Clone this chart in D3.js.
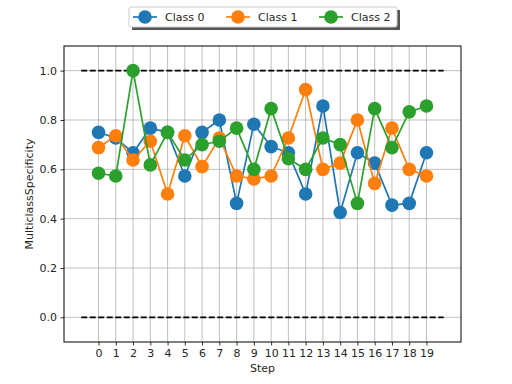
<!DOCTYPE html>
<meta charset="utf-8">
<title>MulticlassSpecificity</title>
<script src="https://d3js.org/d3.v7.min.js"></script>
<style>
    body { margin: 0; background: #fff; }
    text { font-family: "DejaVu Sans", sans-serif; fill: #262626; }
</style>
<body>
    <div id="my_dataviz"></div>
    <script>

        // values
        var steps = d3.range(0, 20);
        var classNames = ["Class 0", "Class 1", "Class 2"];
        var class0 = [0.75, 0.727, 0.667, 0.767, 0.75, 0.573, 0.75, 0.80, 0.462, 0.783,
                      0.692, 0.667, 0.50, 0.857, 0.425, 0.667, 0.625, 0.455, 0.462, 0.667];
        var class1 = [0.688, 0.736, 0.638, 0.714, 0.50, 0.736, 0.611, 0.727, 0.573, 0.561,
                      0.573, 0.727, 0.923, 0.60, 0.625, 0.80, 0.543, 0.767, 0.60, 0.573];
        var class2 = [0.584, 0.573, 1.0, 0.618, 0.75, 0.638, 0.70, 0.714, 0.767, 0.60,
                      0.846, 0.643, 0.60, 0.727, 0.70, 0.462, 0.846, 0.688, 0.833, 0.857];
        var yTicks = [0.0, 0.2, 0.4, 0.6, 0.8, 1.0];
        var refLines = [0.0, 1.0];
        var refRange = [-1, 20];

        var colors = ["#1f77b4", "#ff7f0e", "#2ca02c"];
        var series = [class0, class1, class2];

        // set the dimensions and margins of the graph
        var margin = { top: 46, right: 51, bottom: 42, left: 64 },
            width = 512 - margin.left - margin.right,
            height = 384 - margin.top - margin.bottom;

        var svg = d3.select("#my_dataviz")
            .append("svg")
            .attr("width", 512)
            .attr("height", 384);

        var g = svg.append("g")
            .attr("transform", "translate(" + margin.left + "," + margin.top + ")");

        var x = d3.scaleLinear().domain([-2, 21]).range([0, width]);
        var y = d3.scaleLinear().domain([-0.1, 1.1]).range([height, 0]);

        // grid
        g.append("g").selectAll("line")
            .data(steps).enter().append("line")
            .attr("x1", function (d) { return x(d); })
            .attr("x2", function (d) { return x(d); })
            .attr("y1", 0).attr("y2", height)
            .attr("stroke", "#b0b0b0").attr("stroke-width", 0.8);
        g.append("g").selectAll("line")
            .data(yTicks).enter().append("line")
            .attr("y1", function (d) { return y(d); })
            .attr("y2", function (d) { return y(d); })
            .attr("x1", 0).attr("x2", width)
            .attr("stroke", "#b0b0b0").attr("stroke-width", 0.8);

        // dashed reference lines
        g.append("g").selectAll("line")
            .data(refLines).enter().append("line")
            .attr("x1", x(refRange[0])).attr("x2", x(refRange[1]))
            .attr("y1", function (d) { return y(d); })
            .attr("y2", function (d) { return y(d); })
            .attr("stroke", "#000").attr("stroke-width", 1.7)
            .attr("stroke-dasharray", "6,2.5");

        // lines + dots
        var line = d3.line()
            .x(function (d, i) { return x(steps[i]); })
            .y(function (d) { return y(d); });

        series.forEach(function (vals, k) {
            g.append("path")
                .datum(vals)
                .attr("d", line)
                .attr("fill", "none")
                .attr("stroke", colors[k])
                .attr("stroke-width", 1.7);
            g.append("g").selectAll("circle")
                .data(vals).enter().append("circle")
                .attr("cx", function (d, i) { return x(steps[i]); })
                .attr("cy", function (d) { return y(d); })
                .attr("r", 6.8)
                .attr("fill", colors[k]);
        });

        // axes
        var xAxis = g.append("g")
            .attr("transform", "translate(0," + height + ")")
            .call(d3.axisBottom(x).tickValues(steps).tickFormat(d3.format("d")).tickSize(3.5).tickPadding(3.5));
        var yAxis = g.append("g")
            .call(d3.axisLeft(y).tickValues(yTicks).tickFormat(d3.format(".1f")).tickSize(3.5).tickPadding(3.5));
        [xAxis, yAxis].forEach(function (a) {
            a.selectAll("text").style("font-size", "11px").attr("fill", "#262626");
            a.selectAll("line").attr("stroke", "#000").attr("stroke-width", 0.8);
            a.select(".domain").remove();
        });

        // frame
        g.append("rect")
            .attr("width", width).attr("height", height)
            .attr("fill", "none").attr("stroke", "#000").attr("stroke-width", 1);

        // axis labels
        svg.append("text")
            .attr("x", margin.left + width / 2).attr("y", 372)
            .attr("text-anchor", "middle").style("font-size", "11px")
            .text("Step");
        svg.append("text")
            .attr("transform", "translate(33," + (margin.top + height / 2) + ") rotate(-90)")
            .attr("text-anchor", "middle").style("font-size", "11px")
            .text("MulticlassSpecificity");

        // legend
        var leg = svg.append("g").attr("transform", "translate(129,7)");
        leg.append("rect")
            .attr("x", 3).attr("y", 3).attr("width", 268).attr("height", 20)
            .attr("fill", "#555");
        leg.append("rect")
            .attr("x", 0).attr("y", 0).attr("width", 268).attr("height", 20)
            .attr("fill", "#fff").attr("stroke", "#ccc").attr("stroke-width", 1)
            .attr("rx", 2);
        var legX = [4, 97, 190];
        classNames.forEach(function (name, k) {
            var e = leg.append("g").attr("transform", "translate(" + legX[k] + ",10)");
            e.append("line").attr("x1", 0).attr("x2", 24)
                .attr("stroke", colors[k]).attr("stroke-width", 1.7);
            e.append("circle").attr("cx", 12).attr("r", 6.8).attr("fill", colors[k]);
            e.append("text").attr("x", 32).attr("y", 4).style("font-size", "11px").text(name);
        });

    </script>
</body>
